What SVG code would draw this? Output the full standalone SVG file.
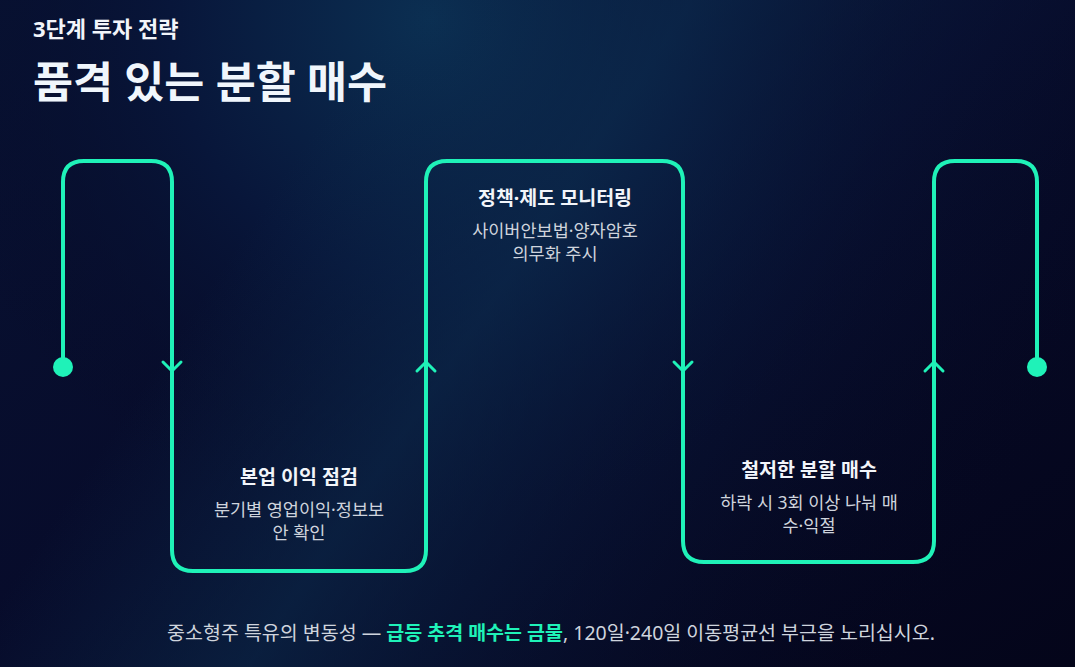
<svg xmlns="http://www.w3.org/2000/svg" width="1075" height="667" viewBox="0 0 1075 667">
<defs>
<radialGradient id="glow" cx="430" cy="20" r="520" gradientUnits="userSpaceOnUse">
<stop offset="0" stop-color="#0b2f52"/>
<stop offset="0.5" stop-color="#08163a"/>
<stop offset="1" stop-color="#060a26" stop-opacity="0"/>
</radialGradient>
<linearGradient id="bg" x1="0" y1="0" x2="1" y2="1">
<stop offset="0" stop-color="#081233"/>
<stop offset="0.5" stop-color="#070b2a"/>
<stop offset="1" stop-color="#04051a"/>
</linearGradient>
<linearGradient id="band" x1="400" y1="0" x2="1075" y2="450" gradientUnits="userSpaceOnUse">
<stop offset="0" stop-color="#0c2c4e" stop-opacity="0"/>
<stop offset="0.3" stop-color="#0c2c4e" stop-opacity="0.6"/>
<stop offset="0.6" stop-color="#0a1c40" stop-opacity="0.3"/>
<stop offset="1" stop-color="#05061c" stop-opacity="0"/>
</linearGradient>
</defs>
<style>
.line{fill:none;stroke:#1ff2b8;stroke-width:4;stroke-linecap:round;stroke-linejoin:round}
.chev{fill:none;stroke:#1ff2b8;stroke-width:3;stroke-linecap:round;stroke-linejoin:round}
.f{font-family:"Noto Sans","Noto Sans CJK KR",sans-serif}
.t{text-anchor:middle}
.title{font-size:19.5px;font-weight:700;fill:#f2f5fa}
.desc{font-size:17.5px;fill:#cfd4dd}
</style>
<rect width="1075" height="667" fill="url(#bg)"/>
<rect width="1075" height="667" fill="url(#glow)"/>
<rect width="1075" height="667" fill="url(#band)"/>

<g id="header">
<text class="f" x="33" y="37" font-size="22" font-weight="700" fill="#f2f5fa">3단계 투자 전략</text>
<text class="f" x="33" y="98" font-size="43.5" font-weight="700" fill="#f0f6fc">품격 있는 분할 매수</text>
</g>

<g id="connectors">
<path class="line" d="M63 367 V182 Q63 161 84 161 H151 Q172 161 172 182 V550 Q172 571 193 571 H405 Q426 571 426 550 V182 Q426 161 447 161 H662 Q683 161 683 182 V541 Q683 562 704 562 H913 Q934 562 934 541 V182 Q934 161 955 161 H1016 Q1037 161 1037 182 V367"/>
<circle cx="63" cy="367" r="10" fill="#1ff2b8"/>
<circle cx="1037" cy="367" r="10" fill="#1ff2b8"/>
<path class="chev" d="M163 362 L172 371 L181 362"/>
<path class="chev" d="M417 371 L426 362 L435 371"/>
<path class="chev" d="M674 362 L683 371 L692 362"/>
<path class="chev" d="M925 371 L934 362 L943 371"/>
</g>

<g id="node1">
<text class="f t title" x="299" y="484">본업 이익 점검</text>
<text class="f t desc" x="299" y="516">분기별 영업이익·정보보</text>
<text class="f t desc" x="299" y="539">안 확인</text>
</g>
<g id="node2">
<text class="f t title" x="555" y="205">정책·제도 모니터링</text>
<text class="f t desc" x="555" y="237">사이버안보법·양자암호</text>
<text class="f t desc" x="555" y="260">의무화 주시</text>
</g>
<g id="node3">
<text class="f t title" x="809" y="477">철저한 분할 매수</text>
<text class="f t desc" x="809" y="509">하락 시 3회 이상 나눠 매</text>
<text class="f t desc" x="809" y="532">수·익절</text>
</g>

<g id="footer">
<text class="f t" x="551" y="640" font-size="19.5" fill="#cfd4dd">중소형주 특유의 변동성 — <tspan font-weight="700" fill="#1ff2b8">급등 추격 매수는 금물</tspan>, 120일·240일 이동평균선 부근을 노리십시오.</text>
</g>
</svg>
